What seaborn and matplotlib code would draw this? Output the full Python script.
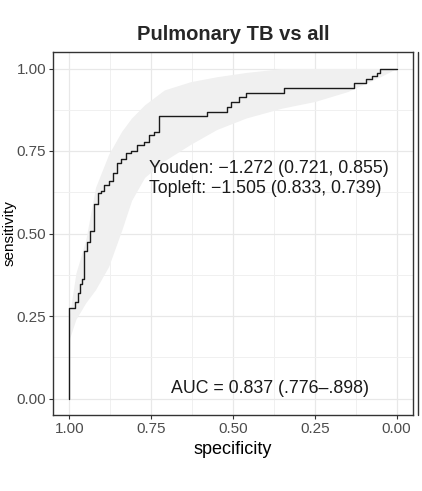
import numpy as np
import pandas as pd
import seaborn as sns
import matplotlib.pyplot as plt
from matplotlib.ticker import MultipleLocator
from matplotlib.lines import Line2D

# ROC curve vertices (specificity, sensitivity)
spec = [1.000, 1.000, 0.982, 0.982, 0.975, 0.975, 0.967, 0.967, 0.961, 0.961,
        0.954, 0.954, 0.947, 0.947, 0.937, 0.937, 0.924, 0.924, 0.914, 0.914,
        0.903, 0.903, 0.893, 0.893, 0.878, 0.878, 0.868, 0.868, 0.853, 0.853,
        0.842, 0.842, 0.827, 0.827, 0.812, 0.812, 0.792, 0.792, 0.771, 0.771,
        0.756, 0.756, 0.741, 0.741, 0.726, 0.726, 0.578, 0.578, 0.517, 0.517,
        0.507, 0.507, 0.482, 0.482, 0.461, 0.461, 0.345, 0.345, 0.131, 0.131,
        0.095, 0.095, 0.075, 0.075, 0.060, 0.060, 0.050, 0.050, 0.000]
sens = [0.000, 0.273, 0.273, 0.293, 0.293, 0.321, 0.321, 0.347, 0.347, 0.363,
        0.363, 0.448, 0.448, 0.473, 0.473, 0.507, 0.507, 0.590, 0.590, 0.622,
        0.622, 0.628, 0.628, 0.646, 0.646, 0.658, 0.658, 0.683, 0.683, 0.713,
        0.713, 0.727, 0.727, 0.743, 0.743, 0.750, 0.750, 0.767, 0.767, 0.778,
        0.778, 0.797, 0.797, 0.808, 0.808, 0.855, 0.855, 0.869, 0.869, 0.884,
        0.884, 0.899, 0.899, 0.914, 0.914, 0.926, 0.926, 0.941, 0.941, 0.956,
        0.956, 0.968, 0.968, 0.977, 0.977, 0.987, 0.987, 1.000, 1.000]

# confidence band for sensitivity at given specificities
band_spec = [1.00, 0.98, 0.95, 0.92, 0.88, 0.84, 0.81, 0.77, 0.71, 0.63,
             0.55, 0.46, 0.35, 0.25, 0.15, 0.05, 0.00]
band_lo = [0.18, 0.24, 0.29, 0.33, 0.40, 0.51, 0.60, 0.67, 0.72, 0.77,
           0.815, 0.85, 0.88, 0.90, 0.93, 0.975, 1.00]
band_hi = [0.25, 0.38, 0.48, 0.64, 0.74, 0.81, 0.85, 0.89, 0.935, 0.96,
           0.975, 0.988, 1.00, 1.00, 1.00, 1.00, 1.00]

title = 'Pulmonary TB vs all'
youden_txt = 'Youden: \u22121.272 (0.721, 0.855)'
topleft_txt = 'Topleft: \u22121.505 (0.833, 0.739)'
auc_txt = 'AUC = 0.837 (.776\u2013.898)'

df = pd.DataFrame({'specificity': spec, 'sensitivity': sens})

sns.set_theme(style='whitegrid')
plt.rcParams['font.family'] = ['Liberation Sans', 'DejaVu Sans']

fig = plt.figure(figsize=(4.22, 4.91), dpi=100)
ax = fig.add_axes([53 / 422, 1 - 415 / 491, 360 / 422, 363 / 491])

ax.fill_between(band_spec, band_lo, band_hi, color='#f0f0f0', lw=0, zorder=1)
sns.lineplot(data=df, x='specificity', y='sensitivity', sort=False,
             estimator=None, color='#1a1a1a', lw=1.0, ax=ax, zorder=3)

ax.set_xlim(1.05, -0.05)
ax.set_ylim(-0.05, 1.05)
ax.xaxis.set_major_locator(MultipleLocator(0.25))
ax.yaxis.set_major_locator(MultipleLocator(0.25))
ax.xaxis.set_minor_locator(MultipleLocator(0.125))
ax.yaxis.set_minor_locator(MultipleLocator(0.125))
ax.set_xticklabels([f'{v:.2f}' for v in ax.get_xticks()])
ax.set_yticklabels([f'{v:.2f}' for v in ax.get_yticks()])
ax.grid(which='major', color='#e8e8e8', lw=0.9)
ax.grid(which='minor', color='#f0f0f0', lw=0.7)
ax.set_axisbelow(True)
for s in ax.spines.values():
    s.set_color('#333333')
    s.set_linewidth(1.0)
ax.tick_params(axis='both', which='major', length=3, width=0.8, color='#333333',
               labelsize=11, labelcolor='#4d4d4d', pad=2, bottom=True, left=True)
ax.tick_params(which='minor', length=0)

ax.set_xlabel('specificity', fontsize=13, color='black', labelpad=4)
ax.set_ylabel('sensitivity', fontsize=11, color='black')
ax.yaxis.set_label_coords(-0.102, 0.5)
ax.set_title(title, fontsize=14.5, fontweight='bold', pad=9)

ax.text(0.756, 0.698, youden_txt, fontsize=12.8, ha='left', va='center', color='#1a1a1a')
ax.text(0.756, 0.637, topleft_txt, fontsize=12.8, ha='left', va='center', color='#1a1a1a')
ax.text(0.387, 0.031, auc_txt, fontsize=12.8, ha='center', va='center', color='#1a1a1a')

# border of the neighbouring facet panel
fig.add_artist(Line2D([418 / 422, 418 / 422], [1 - 415 / 491, 1 - 52 / 491],
                      color='#333333', lw=1.0))

fig.savefig('out.png', dpi=100)
